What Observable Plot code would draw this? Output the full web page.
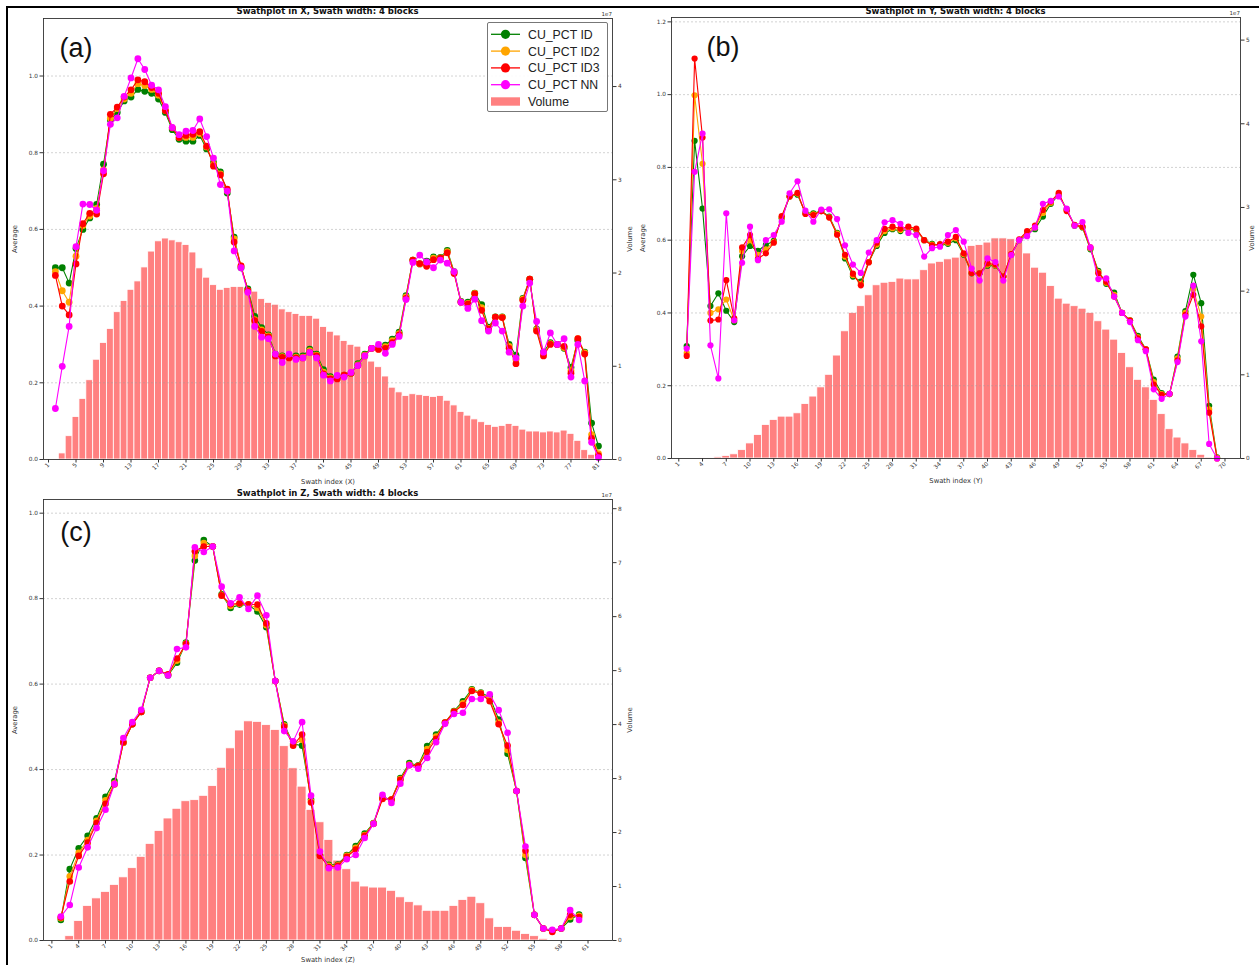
<!DOCTYPE html>
<html>
<head>
<meta charset="utf-8">
<script src="https://cdn.jsdelivr.net/npm/d3@7"></script>
<script src="https://cdn.jsdelivr.net/npm/@observablehq/plot@0.6"></script>
<style>
  html, body { margin: 0; padding: 0; background: #fff; overflow: hidden; }
  #page { position: relative; width: 1259px; height: 965px; overflow: hidden; background: #fff; }
  #border { position: absolute; left: 6px; top: 6px; width: 1300px; height: 1000px; border-top: 2px solid #000; border-left: 2px solid #000; }
  .panel { position: absolute; }
  .panel > svg { position: absolute; left: 0; top: 0; overflow: visible; }
  .title { position: absolute; transform: translate(-50%, -50%); font: bold 8.5px "DejaVu Sans", sans-serif; color: #111; white-space: nowrap; }
  .tag { position: absolute; transform: translate(-50%, -50%); font: 27px "Liberation Sans", Arial, sans-serif; color: #111; line-height: 1; white-space: nowrap; }
  .offset { position: absolute; font: 5.5px "DejaVu Sans", sans-serif; color: #333; transform: translate(-100%, -100%); white-space: nowrap; }
  .legend { position: absolute; border: 1px solid #777; border-radius: 2px; background: rgba(255,255,255,0.88); }
</style>
</head>
<body>
<div id="page"><div id="border"></div></div>
<script>
// ---------------- DATA ----------------
const seriesNames = ["CU_PCT ID", "CU_PCT ID2", "CU_PCT ID3", "CU_PCT NN"];
const volumeName = "Volume";

// Panel (a): Swathplot in X  (lines start at swath index 2, bars at 3)
const aLineStart = 2;
const aID  = [0.50,0.50,0.46,0.55,0.60,0.63,0.665,0.77,0.885,0.905,
              0.935,0.945,0.965,0.96,0.955,0.94,0.905,0.86,0.835,0.83,
              0.83,0.845,0.81,0.775,0.75,0.695,0.58,0.50,0.445,0.373,
              0.344,0.325,0.275,0.27,0.27,0.27,0.27,0.288,0.275,0.234,
              0.216,0.215,0.22,0.225,0.25,0.275,0.29,0.29,0.298,0.314,
              0.332,0.427,0.52,0.51,0.517,0.528,0.527,0.545,0.49,0.412,
              0.41,0.434,0.404,0.345,0.372,0.372,0.30,0.272,0.42,0.47,
              0.34,0.28,0.305,0.30,0.29,0.24,0.31,0.28,0.095,0.035];
const aID2 = [0.49,0.44,0.41,0.53,0.61,0.635,0.655,0.755,0.89,0.915,
              0.94,0.955,0.98,0.975,0.965,0.95,0.91,0.865,0.84,0.84,
              0.84,0.85,0.815,0.77,0.745,0.70,0.575,0.505,0.44,0.365,
              0.338,0.322,0.272,0.268,0.267,0.267,0.267,0.284,0.272,0.228,
              0.213,0.212,0.22,0.225,0.247,0.272,0.29,0.288,0.294,0.31,
              0.328,0.424,0.52,0.51,0.51,0.525,0.526,0.542,0.488,0.411,
              0.407,0.433,0.396,0.342,0.371,0.371,0.295,0.26,0.418,0.47,
              0.338,0.275,0.302,0.30,0.292,0.232,0.315,0.278,0.065,0.015];
const aID3 = [0.48,0.40,0.377,0.51,0.615,0.642,0.64,0.745,0.90,0.919,
              0.945,0.964,0.99,0.985,0.97,0.955,0.91,0.865,0.84,0.845,
              0.848,0.855,0.817,0.765,0.742,0.705,0.567,0.505,0.44,0.362,
              0.334,0.32,0.27,0.266,0.265,0.265,0.265,0.28,0.27,0.223,
              0.21,0.21,0.22,0.225,0.245,0.27,0.29,0.287,0.29,0.305,
              0.325,0.42,0.52,0.511,0.504,0.521,0.525,0.539,0.485,0.41,
              0.405,0.432,0.389,0.34,0.371,0.37,0.29,0.25,0.415,0.47,
              0.335,0.27,0.30,0.30,0.295,0.225,0.315,0.275,0.055,0.01];
const aNN  = [0.133,0.243,0.347,0.555,0.666,0.665,0.65,0.753,0.874,0.891,
              0.947,0.995,1.045,1.017,0.976,0.964,0.92,0.866,0.847,0.856,
              0.858,0.888,0.842,0.786,0.717,0.70,0.544,0.50,0.436,0.347,
              0.319,0.315,0.275,0.253,0.275,0.261,0.265,0.279,0.265,0.22,
              0.205,0.219,0.215,0.227,0.245,0.27,0.29,0.30,0.277,0.30,
              0.321,0.417,0.514,0.533,0.515,0.50,0.52,0.512,0.49,0.41,
              0.394,0.418,0.362,0.335,0.356,0.335,0.28,0.265,0.40,0.46,
              0.36,0.28,0.33,0.30,0.315,0.215,0.30,0.205,0.045,0.005];
const aVolStart = 3; // volume in units of 1e7
const aVol = [0.065,0.25,0.455,0.65,0.85,1.07,1.25,1.40,1.58,1.70,
              1.82,1.91,2.06,2.23,2.34,2.37,2.35,2.33,2.30,2.22,
              2.05,1.95,1.87,1.82,1.84,1.85,1.85,1.84,1.80,1.72,
              1.68,1.66,1.61,1.58,1.56,1.54,1.54,1.51,1.42,1.37,
              1.33,1.27,1.23,1.21,1.13,1.05,0.99,0.89,0.77,0.72,
              0.68,0.70,0.69,0.68,0.67,0.68,0.63,0.58,0.51,0.47,
              0.43,0.40,0.37,0.35,0.36,0.38,0.36,0.32,0.30,0.30,
              0.29,0.30,0.29,0.31,0.275,0.20,0.10,0.05,0.02];
const aXTicks = [1,5,9,13,17,21,25,29,33,37,41,45,49,53,57,61,65,69,73,77,81];
const aAvgTicks = [0,0.2,0.4,0.6,0.8,1.0];
const aVolTicks = [0,1,2,3,4];

// Panel (b): Swathplot in Y
const bLineStart = 2;
const bID  = [0.309,0.873,0.687,0.419,0.454,0.406,0.375,0.556,0.584,0.571,
              0.587,0.598,0.66,0.72,0.725,0.675,0.674,0.68,0.665,0.62,
              0.55,0.50,0.486,0.54,0.584,0.62,0.63,0.625,0.63,0.628,
              0.60,0.59,0.585,0.59,0.60,0.56,0.509,0.509,0.53,0.53,
              0.50,0.56,0.60,0.617,0.63,0.665,0.70,0.725,0.685,0.64,
              0.635,0.575,0.516,0.48,0.456,0.40,0.38,0.337,0.30,0.217,
              0.18,0.177,0.28,0.405,0.505,0.427,0.145,0.003];
const bID2 = [0.29,0.998,0.81,0.40,0.41,0.437,0.38,0.57,0.60,0.56,
              0.575,0.595,0.663,0.72,0.728,0.673,0.671,0.68,0.663,0.618,
              0.555,0.504,0.48,0.54,0.588,0.625,0.633,0.628,0.633,0.63,
              0.60,0.588,0.587,0.593,0.605,0.562,0.51,0.509,0.533,0.531,
              0.50,0.561,0.601,0.62,0.635,0.675,0.703,0.728,0.682,0.641,
              0.636,0.578,0.512,0.483,0.45,0.40,0.38,0.333,0.30,0.21,
              0.177,0.177,0.275,0.40,0.465,0.39,0.135,0.002];
const bID3 = [0.282,1.099,0.882,0.379,0.382,0.49,0.385,0.58,0.614,0.549,
              0.564,0.593,0.666,0.72,0.73,0.672,0.669,0.68,0.662,0.615,
              0.56,0.508,0.476,0.539,0.593,0.631,0.637,0.632,0.637,0.632,
              0.60,0.586,0.589,0.596,0.609,0.564,0.51,0.509,0.536,0.533,
              0.50,0.562,0.602,0.625,0.64,0.683,0.706,0.73,0.68,0.642,
              0.637,0.58,0.509,0.486,0.445,0.40,0.379,0.33,0.30,0.203,
              0.175,0.178,0.27,0.395,0.45,0.363,0.126,0.0];
const bNN  = [0.302,0.788,0.893,0.311,0.22,0.674,0.38,0.538,0.637,0.545,
              0.60,0.614,0.651,0.729,0.762,0.681,0.651,0.684,0.685,0.658,
              0.586,0.533,0.51,0.566,0.60,0.649,0.655,0.645,0.62,0.614,
              0.555,0.578,0.582,0.614,0.628,0.596,0.522,0.489,0.55,0.54,
              0.489,0.559,0.60,0.611,0.635,0.70,0.708,0.72,0.687,0.64,
              0.65,0.58,0.493,0.495,0.445,0.40,0.375,0.325,0.295,0.19,
              0.164,0.178,0.265,0.39,0.475,0.322,0.04,0.0];
const bVolStart = 4;
const bVol = [0.01,0.01,0.015,0.03,0.05,0.10,0.18,0.28,0.40,0.46,
              0.50,0.50,0.54,0.65,0.74,0.85,1.0,1.23,1.52,1.74,
              1.82,1.95,2.07,2.10,2.11,2.15,2.14,2.14,2.25,2.33,
              2.35,2.38,2.40,2.45,2.54,2.55,2.58,2.63,2.63,2.62,
              2.58,2.45,2.28,2.22,2.06,1.91,1.85,1.82,1.79,1.74,
              1.64,1.54,1.42,1.26,1.09,0.94,0.85,0.70,0.53,0.35,
              0.25,0.18,0.10,0.044,0.012];
const bXTicks = [1,4,7,10,13,16,19,22,25,28,31,34,37,40,43,46,49,52,55,58,61,64,67,70];
const bAvgTicks = [0,0.2,0.4,0.6,0.8,1.0,1.2];
const bVolTicks = [0,1,2,3,4,5];

// Panel (c): Swathplot in Z
const cLineStart = 2;
const cID  = [0.048,0.167,0.216,0.245,0.286,0.336,0.373,0.463,0.506,0.535,
              0.615,0.631,0.62,0.65,0.697,0.889,0.937,0.922,0.81,0.778,
              0.786,0.785,0.77,0.733,0.607,0.506,0.46,0.456,0.33,0.20,
              0.177,0.178,0.20,0.221,0.25,0.275,0.335,0.33,0.38,0.415,
              0.41,0.455,0.482,0.51,0.537,0.56,0.588,0.58,0.57,0.517,
              0.437,0.35,0.193,0.06,0.028,0.023,0.028,0.049,0.061];
const cID2 = [0.052,0.15,0.205,0.235,0.28,0.328,0.368,0.463,0.506,0.535,
              0.615,0.631,0.622,0.655,0.695,0.90,0.93,0.922,0.808,0.783,
              0.788,0.786,0.778,0.738,0.607,0.503,0.458,0.47,0.326,0.199,
              0.175,0.176,0.198,0.217,0.247,0.274,0.333,0.33,0.378,0.412,
              0.409,0.448,0.477,0.51,0.536,0.555,0.586,0.579,0.565,0.51,
              0.446,0.35,0.20,0.06,0.028,0.022,0.028,0.055,0.058];
const cID3 = [0.054,0.138,0.198,0.229,0.275,0.32,0.365,0.464,0.506,0.535,
              0.615,0.631,0.623,0.66,0.694,0.911,0.922,0.922,0.807,0.787,
              0.789,0.787,0.786,0.742,0.607,0.50,0.456,0.482,0.323,0.198,
              0.172,0.175,0.196,0.213,0.245,0.273,0.331,0.33,0.376,0.41,
              0.408,0.441,0.472,0.51,0.535,0.551,0.584,0.578,0.56,0.506,
              0.456,0.35,0.21,0.06,0.028,0.02,0.028,0.06,0.055];
const cNN  = [0.056,0.083,0.171,0.218,0.263,0.306,0.366,0.474,0.511,0.54,
              0.615,0.631,0.62,0.682,0.686,0.92,0.909,0.922,0.828,0.789,
              0.803,0.776,0.807,0.761,0.607,0.49,0.466,0.511,0.339,0.208,
              0.169,0.171,0.19,0.20,0.24,0.273,0.341,0.322,0.367,0.41,
              0.402,0.427,0.464,0.507,0.53,0.533,0.565,0.565,0.576,0.539,
              0.486,0.35,0.22,0.06,0.028,0.025,0.028,0.071,0.048];
const cVolStart = 3;
const cVol = [0.08,0.36,0.64,0.78,0.90,1.03,1.17,1.34,1.55,1.79,
              2.03,2.26,2.44,2.58,2.60,2.68,2.86,3.20,3.56,3.89,
              4.06,4.05,3.99,3.90,3.60,3.19,2.85,2.42,2.19,1.86,
              1.48,1.32,1.09,1.00,0.98,0.98,0.92,0.80,0.71,0.65,
              0.55,0.55,0.55,0.64,0.75,0.81,0.69,0.41,0.25,0.25,
              0.18,0.12,0.08,0.03];
const cXTicks = [1,4,7,10,13,16,19,22,25,28,31,34,37,40,43,46,49,52,55,58,61];
const cAvgTicks = [0,0.2,0.4,0.6,0.8,1.0];
const cVolTicks = [0,1,2,3,4,5,6,7,8];

// ---------------- DRAWING ----------------
const seriesColors = ["green", "orange", "red", "magenta"];
const barColor = "#ff8080";
const page = document.getElementById("page");
const W = 652, H = 493, M = {left: 43, right: 40, top: 20, bottom: 32};
const tickFont = 5.8, labelFont = 6.8;

function seriesRows(start, arrays) {
  return arrays.flatMap((arr, s) => arr.map((v, k) => ({i: start + k, v, s: seriesNames[s]})));
}

function drawPanel(p) {
  const host = document.createElement("div");
  host.className = "panel";
  Object.assign(host.style, {left: p.left + "px", top: p.top + "px", width: W + "px", height: H + "px"});
  const common = {
    width: W, height: H,
    marginLeft: M.left, marginRight: M.right, marginTop: M.top, marginBottom: M.bottom,
    style: {background: "transparent", overflow: "visible", fontFamily: "DejaVu Sans, sans-serif", fontSize: tickFont + "px", color: "#333"}
  };
  const volRows = p.vol.map((v, k) => ({i: p.volStart + k, v}));
  const barPlot = Plot.plot({
    ...common,
    x: {domain: p.xDomain, axis: null},
    y: {domain: [0, p.volTop]},
    marks: [
      Plot.rectY(volRows, {x1: d => d.i - 0.5, x2: d => d.i + 0.5, y1: 0, y2: "v", fill: barColor, stroke: "#fff", strokeWidth: 0.8}),
      Plot.axisY(p.volTicks, {anchor: "right", tickSize: 3.5, tickPadding: 2, tickFormat: d3.format("d"), label: null, fontSize: tickFont}),
      Plot.axisY([], {anchor: "right", tickSize: 0, label: volumeName, labelAnchor: "center", labelOffset: p.volLabelOffset, labelArrow: "none", fontSize: labelFont})
    ]
  });
  const rows = seriesRows(p.lineStart, p.series);
  const lineMarks = seriesNames.flatMap(name => {
    const d = rows.filter(r => r.s === name);
    return [
      Plot.line(d, {x: "i", y: "v", stroke: "s", strokeWidth: 1.1}),
      Plot.dot(d, {x: "i", y: "v", fill: "s", r: p.r})
    ];
  });
  const linePlot = Plot.plot({
    ...common,
    x: {domain: p.xDomain},
    y: {domain: [0, p.avgTop]},
    color: {domain: seriesNames, range: seriesColors},
    marks: [
      Plot.gridY(p.avgTicks.filter(t => t > 0), {stroke: "#999", strokeOpacity: 0.55, strokeDasharray: "2,2", strokeWidth: 0.8}),
      ...lineMarks,
      Plot.axisY(p.avgTicks, {anchor: "left", tickSize: 3.5, tickPadding: 2, tickFormat: d3.format(".1f"), label: null, fontSize: tickFont}),
      Plot.axisY([], {anchor: "left", tickSize: 0, label: "Average", labelAnchor: "center", labelOffset: 31, labelArrow: "none", fontSize: labelFont}),
      Plot.axisX(p.xTicks, {anchor: "bottom", tickSize: 3.5, tickPadding: 1, tickRotate: -45, tickFormat: d3.format("d"), label: null, fontSize: tickFont}),
      Plot.axisX([], {anchor: "bottom", tickSize: 0, label: p.xLabel, labelAnchor: "center", labelOffset: p.xLabelOffset, labelArrow: "none", fontSize: labelFont}),
      Plot.frame({stroke: "#333", strokeWidth: 0.9})
    ]
  });
  host.append(barPlot, linePlot);
  page.append(host);

  const title = document.createElement("div");
  title.className = "title";
  title.textContent = p.title;
  Object.assign(title.style, {left: p.titleX + "px", top: p.titleY + "px"});
  page.append(title);

  const tag = document.createElement("div");
  tag.className = "tag";
  tag.textContent = p.tag;
  Object.assign(tag.style, {left: p.tagX + "px", top: p.tagY + "px"});
  page.append(tag);

  const off = document.createElement("div");
  off.className = "offset";
  off.textContent = "1e7";
  Object.assign(off.style, {left: (p.left + W - M.right) + "px", top: (p.top + M.top - 1.5) + "px"});
  page.append(off);
}

drawPanel({left: 0, top: -2, xDomain: [0.27, 83.04], avgTop: 1.15, volTop: 4.73,
  lineStart: aLineStart, series: [aID, aID2, aID3, aNN], volStart: aVolStart, vol: aVol,
  xTicks: aXTicks, avgTicks: aAvgTicks, volTicks: aVolTicks, xLabel: "Swath index (X)", xLabelOffset: 24.5, volLabelOffset: 19, r: 3.4,
  title: "Swathplot in X, Swath width: 4 blocks", titleX: 327.5, titleY: 10.5, tag: "(a)", tagX: 76, tagY: 48});

drawPanel({left: 628, top: -3, xDomain: [0.08, 71.96], avgTop: 1.212, volTop: 5.27,
  lineStart: bLineStart, series: [bID, bID2, bID3, bNN], volStart: bVolStart, vol: bVol,
  xTicks: bXTicks, avgTicks: bAvgTicks, volTicks: bVolTicks, xLabel: "Swath index (Y)", xLabelOffset: 24.5, volLabelOffset: 13, r: 3.1,
  title: "Swathplot in Y, Swath width: 4 blocks", titleX: 955.5, titleY: 10.5, tag: "(b)", tagX: 723, tagY: 47});

drawPanel({left: 0, top: 479, xDomain: [0.06, 63.74], avgTop: 1.032, volTop: 8.17,
  lineStart: cLineStart, series: [cID, cID2, cID3, cNN], volStart: cVolStart, vol: cVol,
  xTicks: cXTicks, avgTicks: cAvgTicks, volTicks: cVolTicks, xLabel: "Swath index (Z)", xLabelOffset: 21.5, volLabelOffset: 19, r: 3.3,
  title: "Swathplot in Z, Swath width: 4 blocks", titleX: 327.5, titleY: 492.5, tag: "(c)", tagX: 76, tagY: 532});

// Legend for panel (a)
const legend = document.createElement("div");
legend.className = "legend";
Object.assign(legend.style, {left: "487px", top: "22px", width: "119px", height: "88px"});
const lsvg = d3.create("svg").attr("width", 119).attr("height", 88).style("position", "absolute").style("left", "0").style("top", "0");
seriesNames.forEach((name, k) => {
  const y = 11.3 + k * 16.8;
  lsvg.append("line").attr("x1", 3).attr("x2", 32).attr("y1", y).attr("y2", y).attr("stroke", seriesColors[k]).attr("stroke-width", 1.3);
  lsvg.append("circle").attr("cx", 17.5).attr("cy", y).attr("r", 4.6).attr("fill", seriesColors[k]);
  lsvg.append("text").attr("x", 40).attr("y", y).attr("dy", "0.36em").attr("font-family", "Liberation Sans, Arial, sans-serif").attr("font-size", 12.3).attr("fill", "#222").text(name);
});
{
  const y = 11.3 + 4 * 16.8;
  lsvg.append("rect").attr("x", 3).attr("y", y - 4.2).attr("width", 29).attr("height", 8.4).attr("fill", barColor);
  lsvg.append("text").attr("x", 40).attr("y", y).attr("dy", "0.36em").attr("font-family", "Liberation Sans, Arial, sans-serif").attr("font-size", 12.3).attr("fill", "#222").text(volumeName);
}
legend.append(lsvg.node());
page.append(legend);
</script>
</body>
</html>
